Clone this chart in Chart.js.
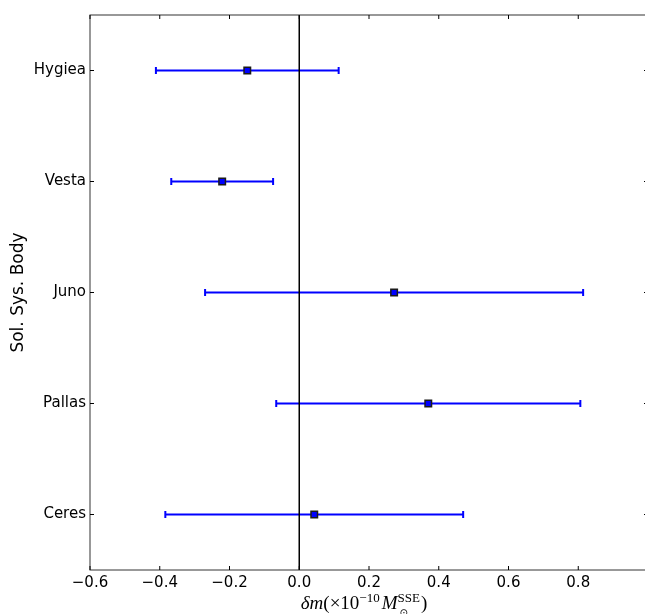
<!DOCTYPE html>
<html>
<head>
<meta charset="utf-8">
<script src="https://cdn.jsdelivr.net/npm/chart.js@4.4.0/dist/chart.umd.min.js"></script>
<style>
html, body { margin: 0; padding: 0; background: #fff; overflow: hidden; }
canvas { display: block; }
</style>
</head>
<body>
<canvas id="grafica" width="660" height="614"></canvas>
<script>
// datos
const cuerpos = ["Ceres", "Pallas", "Juno", "Vesta", "Hygiea"];
const deltaM = [0.043, 0.370, 0.272, -0.221, -0.149];
const errores = [0.427, 0.436, 0.542, 0.146, 0.262];
const ticksX = [-0.6, -0.4, -0.2, 0.0, 0.2, 0.4, 0.6, 0.8];

// dibuja barras de error, ejes tipo matplotlib y la etiqueta del eje x
const extras = {
    id: 'extras',
    beforeDatasetsDraw(chart) {
        const { ctx, scales: { x, y } } = chart;
        ctx.save();
        ctx.strokeStyle = '#0000ff';
        ctx.lineWidth = 2;
        deltaM.forEach((v, i) => {
            const py = y.getPixelForValue(i);
            const x0 = x.getPixelForValue(v - errores[i]);
            const x1 = x.getPixelForValue(v + errores[i]);
            ctx.beginPath();
            ctx.moveTo(x0, py); ctx.lineTo(x1, py);
            ctx.moveTo(x0, py - 3.5); ctx.lineTo(x0, py + 3.5);
            ctx.moveTo(x1, py - 3.5); ctx.lineTo(x1, py + 3.5);
            ctx.stroke();
        });
        ctx.restore();
    },
    afterDatasetsDraw(chart) {
        const { ctx, chartArea: a, scales: { x, y } } = chart;
        ctx.save();
        // linea en cero
        const x0 = x.getPixelForValue(0);
        ctx.strokeStyle = '#000';
        ctx.lineWidth = 1.5;
        ctx.beginPath();
        ctx.moveTo(x0, a.top); ctx.lineTo(x0, a.bottom);
        ctx.stroke();

        // marco
        ctx.lineWidth = 1;
        ctx.strokeStyle = '#333';
        ctx.strokeRect(a.left, a.top, a.right - a.left, a.bottom - a.top);

        // marcas hacia dentro
        ctx.strokeStyle = '#000';
        ctx.beginPath();
        ticksX.forEach(v => {
            const px = x.getPixelForValue(v);
            ctx.moveTo(px, a.bottom); ctx.lineTo(px, a.bottom - 4);
            ctx.moveTo(px, a.top); ctx.lineTo(px, a.top + 4);
        });
        cuerpos.forEach((c, i) => {
            const py = y.getPixelForValue(i);
            ctx.moveTo(a.left, py); ctx.lineTo(a.left + 4, py);
            ctx.moveTo(a.right, py); ctx.lineTo(a.right - 4, py);
        });
        ctx.stroke();

        // etiqueta del eje x en estilo mathtext
        const ital = 'italic 19px "Liberation Serif"';
        const rom = '19px "Liberation Serif"';
        const sup = '13px "Liberation Serif"';
        const partes = [
            { t: 'δ', f: ital },
            { t: 'm', f: ital },
            { t: '(×10', f: rom },
            { t: '−10', f: sup, dy: -7 },
            { t: 'M', f: ital, pre: 2 },
            { t: 'SSE', f: sup, dy: -7, sub: '⊙' },
            { t: ')', f: rom, pre: 1 }
        ];
        let total = 0;
        partes.forEach(p => {
            ctx.font = p.f;
            p.w = ctx.measureText(p.t).width + (p.pre || 0);
            total += p.w;
        });
        let cx = (a.left + a.right) / 2 - 5 - total / 2;
        const base = 609;
        ctx.fillStyle = '#000';
        ctx.textBaseline = 'alphabetic';
        ctx.textAlign = 'left';
        partes.forEach(p => {
            ctx.font = p.f;
            ctx.fillText(p.t, cx + (p.pre || 0), base + (p.dy || 0));
            if (p.sub) {
                ctx.font = '10px "DejaVu Sans"';
                ctx.fillText(p.sub, cx + 2, base + 7);
            }
            cx += p.w;
        });
        ctx.restore();
    }
};

const ctx = document.getElementById('grafica').getContext('2d');
const miGrafica = new Chart(ctx, {
    type: 'scatter',
    data: {
        datasets: [{
            data: cuerpos.map((c, i) => ({ x: deltaM[i], y: i })),
            pointStyle: 'rect',
            pointRadius: 4.6,
            backgroundColor: '#0000ff',
            borderColor: '#1a1a1a',
            borderWidth: 1.5
        }]
    },
    options: {
        responsive: false,
        animation: false,
        layout: { padding: { top: 15, right: 12, left: 0, bottom: 0 } },
        plugins: { legend: { display: false }, tooltip: { enabled: false } },
        scales: {
            x: {
                type: 'linear',
                min: -0.6,
                max: 1.0,
                afterBuildTicks: s => { s.ticks = ticksX.map(v => ({ value: v })); },
                afterFit: s => { s.height = 44; },
                grid: { display: false, drawTicks: false },
                border: { display: false },
                ticks: {
                    padding: 4,
                    color: '#000',
                    font: { family: 'DejaVu Sans', size: 15 },
                    callback: v => (v < -1e-9 ? '−' : '') + Math.abs(v).toFixed(1)
                }
            },
            y: {
                type: 'linear',
                min: -0.5,
                max: 4.5,
                afterBuildTicks: s => { s.ticks = cuerpos.map((c, i) => ({ value: i })); },
                afterFit: s => { s.width = 90; },
                grid: { display: false, drawTicks: false },
                border: { display: false },
                title: {
                    display: true,
                    text: 'Sol. Sys. Body',
                    color: '#000',
                    font: { family: 'DejaVu Sans', size: 17 },
                    padding: { top: 8, bottom: 0 }
                },
                ticks: {
                    padding: 4,
                    color: '#000',
                    font: { family: 'DejaVu Sans', size: 15 },
                    callback: v => cuerpos[v] ?? ''
                }
            }
        }
    },
    plugins: [extras]
});
</script>
</body>
</html>
